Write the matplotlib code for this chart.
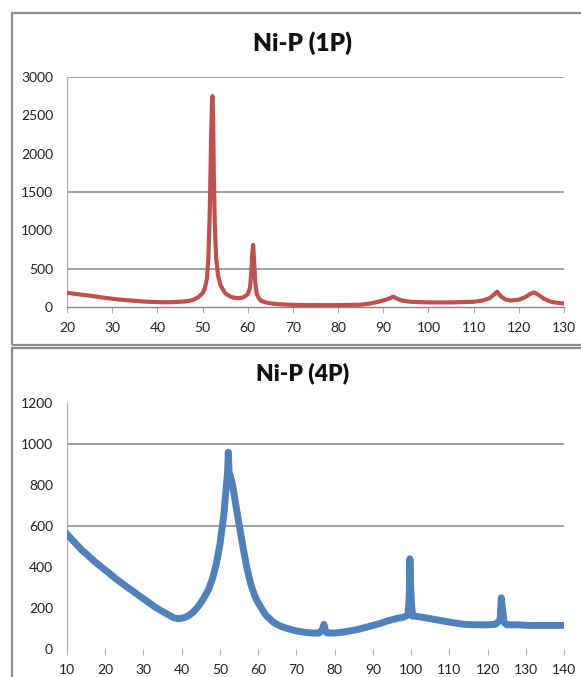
import matplotlib
matplotlib.use("Agg")
import matplotlib.pyplot as plt
from matplotlib.patches import Rectangle

# ---------------- data ----------------
title1 = "Ni-P (1P)"
x1 = [20, 22, 24, 26, 28, 30, 32, 34, 36, 38, 40, 42, 44, 46, 47, 48, 49, 50, 50.5,
      51, 51.3, 51.6, 51.9, 52.1, 52.2, 52.35, 52.5, 52.7, 53, 53.4, 54, 55, 56, 57,
      58, 59, 60, 60.5, 60.8, 61.0, 61.2, 61.4, 61.7, 62, 62.5, 63, 64, 65, 66, 68,
      70, 75, 80, 85, 87, 89, 90.5, 91.5, 92.2, 93, 94, 96, 100, 105, 110, 112,
      113.5, 114.5, 115.2, 116, 117, 118, 120, 121.5, 122.5, 123.4, 124.3, 125.5,
      127, 128.5, 130]
y1 = [185, 170, 155, 140, 122, 108, 95, 85, 75, 68, 64, 62, 65, 72, 80, 95, 125, 180, 240,
      380, 650, 1250, 2200, 2700, 2750, 2450, 1700, 1100, 650, 420, 280, 180, 140, 120,
      115, 125, 165, 250, 450, 700, 810, 600, 300, 170, 110, 80, 60, 48, 40, 33,
      28, 24, 24, 30, 45, 70, 95, 115, 135, 110, 85, 68, 60, 60, 68, 85,
      115, 160, 200, 140, 100, 85, 95, 130, 170, 190, 160, 110,
      70, 55, 45]
yticks1 = [0, 500, 1000, 1500, 2000, 2500, 3000]
xticks1 = list(range(20, 131, 10))
grid1 = [500, 1500, 3000]

title2 = "Ni-P (4P)"
x2 = [10, 11, 12, 13, 14, 15, 17, 19, 21, 23, 25, 27, 29, 31, 33, 35, 37, 38, 39, 40,
      41, 42, 43, 44, 45, 46, 47, 48, 49, 50, 51, 51.6, 52.0, 52.2, 52.4, 52.8, 53.3,
      54, 55, 56, 57, 58, 59, 60, 62, 64, 66, 68, 70, 72, 74, 76, 76.8, 77.2, 77.6,
      78, 80, 82, 84, 86, 88, 90, 92, 94, 96, 98, 99.2, 99.5, 99.7, 99.9, 100.1,
      100.4, 101, 103, 105, 108, 111, 114, 117, 120, 122, 123.3, 123.6, 123.9, 124.3,
      125, 128, 131, 134, 137, 140]
y2 = [560, 540, 520, 500, 480, 465, 430, 400, 370, 340, 312, 285, 258, 232, 205, 183, 162, 152, 148, 150,
      155, 165, 180, 200, 225, 255, 290, 340, 410, 510, 650, 780, 860, 960, 860, 840, 800,
      720, 610, 500, 400, 320, 265, 225, 165, 130, 110, 98, 88, 82, 78, 78, 95, 120, 90,
      78, 78, 82, 88, 95, 105, 115, 125, 138, 148, 155, 165, 250, 440, 300, 220,
      160, 160, 155, 148, 138, 128, 120, 118, 118, 120, 140, 250, 200, 130,
      118, 118, 115, 115, 115, 115]
yticks2 = [0, 200, 400, 600, 800, 1000, 1200]
xticks2 = list(range(10, 141, 10))
grid2 = [600, 1000]

red = "#C0504D"
blue = "#4F81BD"
gray = "#868686"

plt.rcParams['font.family'] = ['Lato', 'DejaVu Sans']

W, H = 581, 677
fig = plt.figure(figsize=(W / 100, H / 100), dpi=100)

def fx(px):
    return px / W

def fy(py):
    return 1 - py / H

# panel borders
fig.patches.append(Rectangle((fx(12), fy(345)), fx(600) - fx(12), fy(13) - fy(345),
                             transform=fig.transFigure, fill=False, edgecolor="#8c8c8c", lw=1.6))
fig.patches.append(Rectangle((fx(12), fy(700)), fx(600) - fx(12), fy(348) - fy(700),
                             transform=fig.transFigure, fill=False, edgecolor="#8c8c8c", lw=1.6))

def make_axes(top, bottom, left=67, right=564):
    return fig.add_axes([fx(left), fy(bottom), fx(right) - fx(left), fy(top) - fy(bottom)])

def style(ax, xs, ys, grid, xmin, xmax, ymax, bottom_line):
    ax.set_xlim(xmin, xmax)
    ax.set_ylim(0, ymax)
    ax.set_xticks(xs)
    ax.set_yticks(ys)
    ax.set_xticklabels([str(v) for v in xs])
    ax.set_yticklabels([str(v) for v in ys])
    for g in grid:
        ax.axhline(g, color=gray, lw=1.1, zorder=1)
    for s in ["top", "right"]:
        ax.spines[s].set_visible(False)
    ax.spines["left"].set_color("#b0b0b0")
    ax.spines["left"].set_linewidth(0.9)
    if bottom_line:
        ax.spines["bottom"].set_color(gray)
        ax.spines["bottom"].set_linewidth(1.0)
    else:
        ax.spines["bottom"].set_visible(False)
    ax.tick_params(axis="x", direction="out", length=4, width=0.8, color="#b0b0b0",
                   labelsize=10, pad=7, labelcolor="#222222")
    ax.tick_params(axis="y", length=0, labelsize=10, pad=10, labelcolor="#222222")
    ax.set_facecolor("none")

ax1 = make_axes(77, 307)
ax1.plot(x1, y1, color=red, lw=3.0, solid_joinstyle="round", zorder=3)
style(ax1, xticks1, yticks1, grid1, 20, 130, 3000, True)
fig.text(fx(303), fy(43), title1, ha="center", va="center", fontsize=17.5, fontweight="heavy",
         color="#111111")

ax2 = make_axes(403, 649)
ax2.plot(x2, y2, color=blue, lw=5.0, solid_joinstyle="round", zorder=3)
style(ax2, xticks2, yticks2, grid2, 10, 140, 1200, False)
fig.text(fx(303), fy(373), title2, ha="center", va="center", fontsize=16.5, fontweight="heavy",
         color="#111111")

fig.savefig("out.png", dpi=100)
